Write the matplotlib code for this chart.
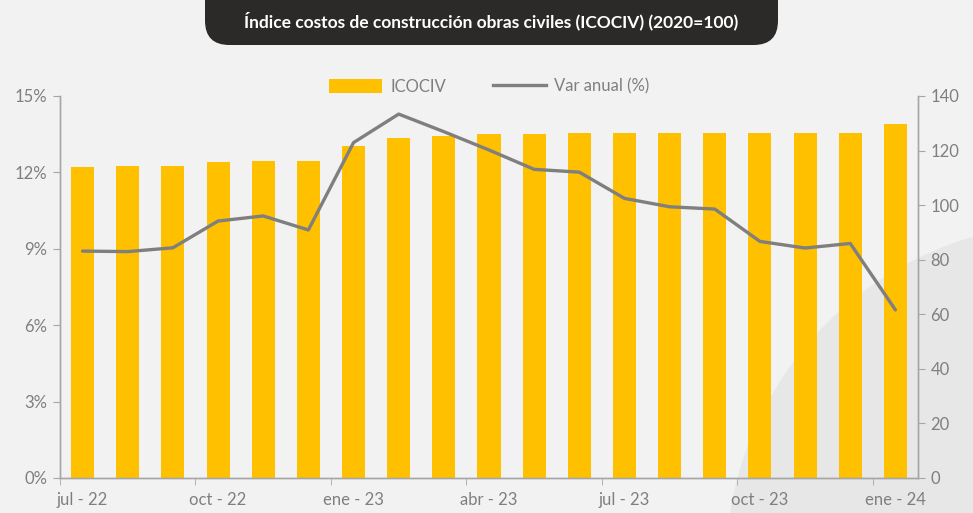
import numpy as np
import matplotlib
matplotlib.use('Agg')
import matplotlib.pyplot as plt
from matplotlib.patches import FancyBboxPatch, Ellipse
from matplotlib.lines import Line2D
from matplotlib.patches import Patch

# data
meses = ['jul - 22', 'ago - 22', 'sep - 22', 'oct - 22', 'nov - 22', 'dic - 22',
         'ene - 23', 'feb - 23', 'mar - 23', 'abr - 23', 'may - 23', 'jun - 23',
         'jul - 23', 'ago - 23', 'sep - 23', 'oct - 23', 'nov - 23', 'dic - 23', 'ene - 24']
icociv = [114.0, 114.3, 114.4, 115.8, 116.2, 116.0, 121.8, 124.6, 125.3, 125.9,
          126.2, 126.3, 126.5, 126.5, 126.4, 126.4, 126.4, 126.6, 129.8]
var_anual = [8.91, 8.89, 9.04, 10.09, 10.29, 9.74, 13.17, 14.29, 13.6, 12.88,
             12.12, 12.01, 10.98, 10.65, 10.56, 9.29, 9.03, 9.21, 6.60]
titulo = 'Índice costos de construcción obras civiles (ICOCIV) (2020=100)'

gris = '#7F7F7F'
amarillo = '#FFC000'
plt.rcParams['font.family'] = ['Lato', 'DejaVu Sans']

W, H = 973, 513
fig = plt.figure(figsize=(W / 100, H / 100), dpi=100, facecolor='#F2F2F2')

# background swoosh
fig.patches.append(Ellipse((1069 / W, -53 / H), 686 / W, 686 / H, transform=fig.transFigure,
                           facecolor='#E7E7E7', edgecolor='none', zorder=-5))

# title box
fig.patches.append(FancyBboxPatch((205 / W, (H - 45) / H), 573 / W, 70 / H,
                                  boxstyle='round,pad=0,rounding_size=0.025',
                                  transform=fig.transFigure, facecolor='#2B2A28',
                                  edgecolor='none', zorder=1, mutation_aspect=W / H))
fig.text(491 / W, (H - 21) / H, titulo, color='white', fontsize=12.5, fontweight='bold',
         ha='center', va='center')

ax = fig.add_axes([60 / W, (H - 478) / H, 858 / W, 382 / H])
ax.set_facecolor('none')
x = np.arange(len(meses))
ax.bar(x, icociv, width=0.51, color=amarillo, zorder=2)
ax.set_ylim(0, 140)
ax.set_xlim(-0.5, len(meses) - 0.5)
ax.set_yticks(np.arange(0, 141, 20))

ax2 = ax.twinx()
ax2.plot(x, var_anual, color=gris, lw=2.4, solid_capstyle='round', zorder=3)
ax2.set_ylim(0, 15)
ax2.set_yticks(np.arange(0, 16, 3))
ax2.set_yticklabels(['%d%%' % v for v in range(0, 16, 3)])
ax.yaxis.set_ticks_position('right')
ax2.yaxis.set_ticks_position('left')

for a in (ax, ax2):
    a.spines['top'].set_visible(False)
    for s in ('left', 'right', 'bottom'):
        a.spines[s].set_color('#A6A6A6')
        a.spines[s].set_linewidth(1)
    a.tick_params(axis='y', colors='#A6A6A6', labelcolor=gris, labelsize=12,
                  length=5, pad=4)

ax.set_xticks(x[::3])
ax.set_xticklabels(meses[::3])
ax.set_xticks(np.arange(-0.5, len(meses), 3), minor=True)
ax.tick_params(axis='x', which='major', length=0, labelsize=12, labelcolor=gris, pad=10)
ax.tick_params(axis='x', which='minor', length=5, color='#A6A6A6')

handles = [Patch(facecolor=amarillo, label='ICOCIV'),
           Line2D([], [], color=gris, lw=2.4, label='Var anual (%)')]
ax2.legend(handles=handles, loc='center', bbox_to_anchor=(0.5, 1.025), ncol=2,
           frameon=False, fontsize=12, labelcolor=gris, handlelength=3.2,
           handleheight=0.9, columnspacing=2.8, handletextpad=0.5)

fig.savefig('out.png', dpi=100, facecolor=fig.get_facecolor())
